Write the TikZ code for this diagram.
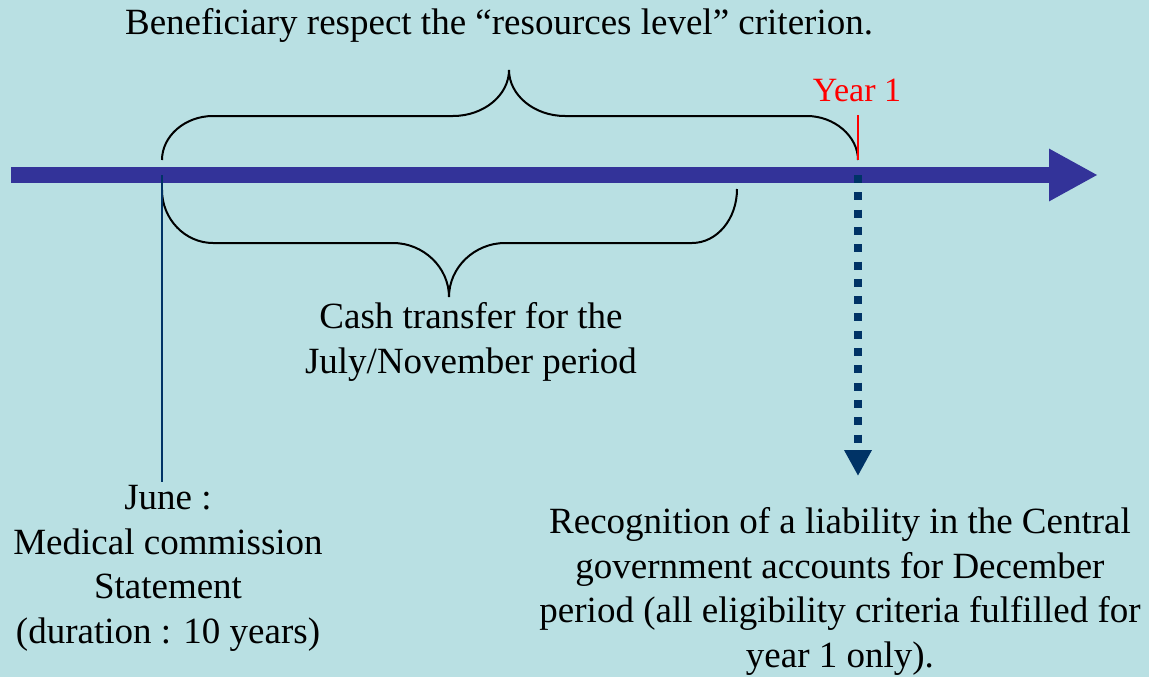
\documentclass[tikz,border=0pt]{standalone}
\usepackage{fontspec}
\setmainfont{Liberation Serif}
\usetikzlibrary{positioning,arrows.meta}
\definecolor{bgblue}{RGB}{185,224,227}
\definecolor{axisblue}{RGB}{51,51,153}
\definecolor{navy}{RGB}{0,51,102}
\tikzstyle{txt}=[inner sep=0pt, align=center, font=\fontsize{37}{44.5}\selectfont]
\tikzstyle{brace}=[draw=black, line width=2pt]
\tikzstyle{timeline}=[draw=axisblue, line width=16pt, -{Triangle[length=49pt,width=49pt]}]
\tikzstyle{tick}=[draw=navy, line width=2.5pt]
\tikzstyle{dots}=[draw=navy, line width=8pt, dash pattern=on 8pt off 9.3pt, -{Triangle[length=26pt,width=26pt]}]

\begin{document}
\begin{tikzpicture}[x=1pt,y=-1pt]
  \fill [bgblue] (0,0) rectangle (1149,677);
  \useasboundingbox (0,0) rectangle (1149,677);

  \coordinate (t0) at (11,175);
  \coordinate (t1) at (1098,175);
  \coordinate (june) at (162,175);
  \coordinate (year) at (858,175);
  \coordinate (down) at (858,476);

  % base of a multi-line node = baseline of its last line
  \node [txt, anchor=base] at (499,35) (crit) {Beneficiary respect the “resources level” criterion.};
  \node [txt, red, font=\fontsize{34}{40}\selectfont, anchor=base] at (857,101) (yr) {Year 1};
  \node [txt, anchor=base] at (471,373) (cash) {Cash transfer for the\\July/November period};
  \node [txt, anchor=base, inner sep=3pt] at (168,643) (junetxt) {June :\\Medical commission\\Statement\\(duration : 10 years)};
  \node [txt, anchor=base] at (840,667) (liab) {Recognition of a liability in the Central\\government accounts for December\\period (all eligibility criteria fulfilled for\\year 1 only).};

  \draw [timeline] (t0) -- (t1);

  % upper brace
  \draw [brace] (162,160) .. controls (162,136) and (185,116) .. (213,116) -- (453,116)
    .. controls (484,116) and (509,95) .. (509,70) .. controls (509,95) and (534,116) .. (565,116)
    -- (807,116) .. controls (834,116) and (858,136) .. (858,160);
  % lower brace
  \draw [brace] (162,190) .. controls (162,219) and (185,243) .. (213,243) -- (393,243)
    .. controls (423,243) and (449,267) .. (449,297) .. controls (449,267) and (475,243) .. (505,243)
    -- (692,243) .. controls (717,243) and (737,219) .. (737,189);

  \draw [red, line width=2pt] (858,115) -- (858,160);
  \draw [tick] (june) -- (june |- junetxt.north);
  \draw [dots] (year) -- (down);
\end{tikzpicture}
\end{document}
